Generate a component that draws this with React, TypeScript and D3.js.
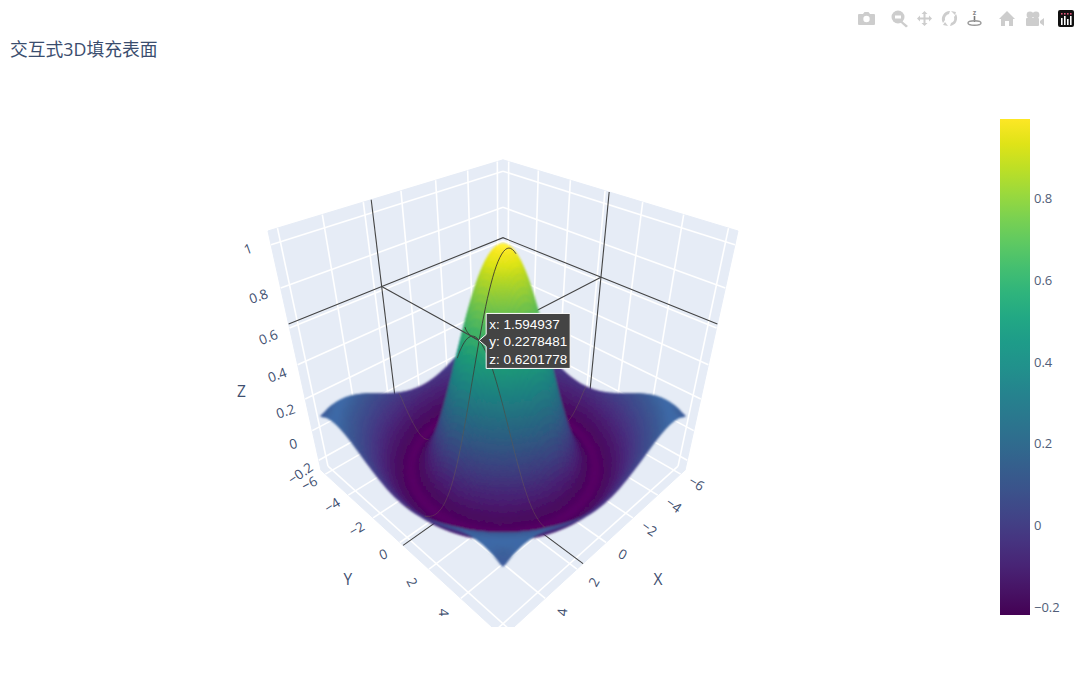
import * as d3 from "d3"
import { useEffect, useRef } from "react"

const WIDTH = 1080
const HEIGHT = 679
const FONT = "'Open Sans', 'Noto Sans CJK SC', sans-serif"

const titleText = "交互式3D填充表面"

// z at |x|, |y| = 0, 0.5, ... 6 (it is mirrored in both axes)
const gridStep = 0.5
const zQuadrant = [
  [1, 0.959, 0.841, 0.665, 0.455, 0.239, 0.047, -0.1, -0.189, -0.217, -0.192, -0.128, -0.047],
  [0.959, 0.919, 0.805, 0.632, 0.428, 0.219, 0.033, -0.109, -0.193, -0.217, -0.189, -0.125, -0.043],
  [0.841, 0.805, 0.698, 0.54, 0.352, 0.161, -0.007, -0.131, -0.202, -0.216, -0.182, -0.114, -0.033],
  [0.665, 0.632, 0.54, 0.402, 0.239, 0.077, -0.063, -0.162, -0.212, -0.211, -0.167, -0.097, -0.016],
  [0.455, 0.428, 0.352, 0.239, 0.109, -0.019, -0.124, -0.193, -0.217, -0.199, -0.145, -0.071, 0.007],
  [0.239, 0.219, 0.161, 0.077, -0.019, -0.109, -0.177, -0.213, -0.212, -0.176, -0.114, -0.04, 0.033],
  [0.047, 0.033, -0.007, -0.063, -0.124, -0.177, -0.21, -0.216, -0.192, -0.142, -0.075, -0.003, 0.061],
  [-0.1, -0.109, -0.131, -0.162, -0.193, -0.213, -0.216, -0.196, -0.155, -0.097, -0.029, 0.036, 0.089],
  [-0.189, -0.193, -0.202, -0.212, -0.217, -0.212, -0.192, -0.155, -0.103, -0.043, 0.019, 0.073, 0.111],
  [-0.217, -0.217, -0.216, -0.211, -0.199, -0.176, -0.142, -0.097, -0.043, 0.013, 0.064, 0.103, 0.125],
  [-0.192, -0.189, -0.182, -0.167, -0.145, -0.114, -0.075, -0.029, 0.019, 0.064, 0.1, 0.123, 0.128],
  [-0.128, -0.125, -0.114, -0.097, -0.071, -0.04, -0.003, 0.036, 0.073, 0.103, 0.123, 0.128, 0.118],
  [-0.047, -0.043, -0.033, -0.016, 0.007, 0.033, 0.061, 0.089, 0.111, 0.125, 0.128, 0.118, 0.095],
]

const xyTicks = [-6, -4, -2, 0, 2, 4, 6]
const zTicks = [-0.2, 0, 0.2, 0.4, 0.6, 0.8, 1]
const colorbarTicks = [-0.2, 0, 0.2, 0.4, 0.6, 0.8]

const hoverX = 1.594937
const hoverY = 0.2278481
const hoverZ = 0.6201778
const hoverLines = ["x: 1.594937", "y: 0.2278481", "z: 0.6201778"]

const colorDomain = [-0.2195, 0.996]
const xyRange = [-6.4, 6.4]
const zRange = [-0.27, 1.06]

// tilt of the tick text, the GL labels follow the perspective
const yLabelTilt = [-28, -32, -30, -22, 62, 88, 88]
const xLabelTilt = [32, 35, 35, 28, -60, -85, -85]
const zLabelTilt = [-35, -15, -18, -20, -22, -20, -20]
const zLabelNudge = [13, 13, 12, 10, 9, 8, 4]

// camera fitted to the box corners
const CAM = { dist: 4.405, elev: (34.6 * Math.PI) / 180, focal: 639, cx: 503, cy: 365.7, zHalf: 0.985 }
const SUB = 120

const xyScale = d3.scaleLinear().domain(xyRange).range([-1, 1])
const zScale = d3.scaleLinear().domain(zRange).range([-CAM.zHalf, CAM.zHalf])
const colorScale = d3.scaleSequential(d3.interpolateViridis).domain(colorDomain)
const contourAlpha = d3.scaleLinear().domain([0.1, 0.6]).range([0.38, 0.85]).clamp(true)
const contourColor = d3
  .scaleLinear<string>()
  .domain([0.05, 0.55])
  .range(["#74644e", "#37322f"])
  .clamp(true)
const glowRed = d3.scaleLinear().domain([-0.2, 0.05]).range([20, 8]).clamp(true)
const glowGreen = d3.scaleLinear().domain([-0.2, 0.05]).range([5, 14]).clamp(true)
const glowBlue = d3.scaleLinear().domain([-0.2, 0.05]).range([18, 26]).clamp(true)
const cosE = Math.cos(CAM.elev)
const sinE = Math.sin(CAM.elev)

const projectNorm = (nx: number, ny: number, nz: number) => {
  const u = (ny - nx) / Math.SQRT2
  const v = (nx + ny) / Math.SQRT2
  const depth = CAM.dist - (v * cosE + nz * sinE)
  const up = nz * cosE - v * sinE
  return [CAM.cx + (CAM.focal * u) / depth, CAM.cy - (CAM.focal * up) / depth, depth]
}
const project = (x: number, y: number, z: number) => projectNorm(xyScale(x), xyScale(y), zScale(z))

const gridAt = (i: number, j: number) => {
  const a = Math.min(Math.abs(i), zQuadrant.length - 1)
  const b = Math.min(Math.abs(j), zQuadrant.length - 1)
  return zQuadrant[a][b]
}
const spline = (p0: number, p1: number, p2: number, p3: number, t: number) =>
  0.5 *
  (2 * p1 +
    (p2 - p0) * t +
    (2 * p0 - 5 * p1 + 4 * p2 - p3) * t * t +
    (3 * p1 - p0 - 3 * p2 + p3) * t * t * t)

// shade between the table's vertices the way a GL surface does
const surfaceZ = (x: number, y: number) => {
  const fx = x / gridStep
  const fy = y / gridStep
  const ix = Math.floor(fx)
  const iy = Math.floor(fy)
  const rows = [-1, 0, 1, 2].map((dx) =>
    spline(
      gridAt(ix + dx, iy - 1),
      gridAt(ix + dx, iy),
      gridAt(ix + dx, iy + 1),
      gridAt(ix + dx, iy + 2),
      fy - iy,
    ),
  )
  return spline(rows[0], rows[1], rows[2], rows[3], fx - ix)
}

// flat parts of the surface catch the overhead light, steep parts fall off a little
const shade = (x: number, y: number, z: number) => {
  const base = d3.rgb(colorScale(z))
  const h = 0.05
  const dzx = (zScale(surfaceZ(x + h, y)) - zScale(surfaceZ(x - h, y))) / (xyScale(x + h) - xyScale(x - h))
  const dzy = (zScale(surfaceZ(x, y + h)) - zScale(surfaceZ(x, y - h))) / (xyScale(y + h) - xyScale(y - h))
  const nz = 1 / Math.hypot(dzx, dzy, 1)
  const lit = Math.min(1, 0.8 + 0.45 * nz)
  const glow = Math.pow(nz, 4)
  return d3
    .rgb(base.r * lit + glow * glowRed(z), base.g * lit + glow * glowGreen(z), base.b * lit + glow * glowBlue(z))
    .formatHex()
}

const pathOf = (pts: number[][], close = false) => {
  const p = d3.path()
  pts.forEach((q, i) => (i ? p.lineTo(q[0], q[1]) : p.moveTo(q[0], q[1])))
  if (close) p.closePath()
  return p.toString()
}

const tickText = (v: number) => d3.format("~g")(v).replace("-", "\u2212")

const App = () => {
  const sceneRef = useRef<SVGGElement>(null)

  useEffect(() => {
    if (!sceneRef.current) return
    const scene = d3.select(sceneRef.current)
    scene.selectAll("*").remove()

    const [lo, hi] = xyRange
    const [zLo, zHi] = zRange

    // back walls and floor
    const walls = [
      [project(hi, lo, zLo), project(lo, lo, zLo), project(lo, lo, zHi), project(hi, lo, zHi)],
      [project(lo, lo, zLo), project(lo, hi, zLo), project(lo, hi, zHi), project(lo, lo, zHi)],
      [project(lo, lo, zLo), project(hi, lo, zLo), project(hi, hi, zLo), project(lo, hi, zLo)],
    ]
    scene
      .append("g")
      .selectAll("path")
      .data(walls)
      .join("path")
      .attr("d", (d) => pathOf(d, true))
      .attr("fill", "#e6ecf6")
      .attr("stroke", "#e6ecf6")
      .attr("stroke-width", 1)

    const gridSegs: number[][][] = []
    xyTicks.forEach((t) => {
      gridSegs.push([project(t, lo, zLo), project(t, lo, zHi)])
      gridSegs.push([project(lo, t, zLo), project(lo, t, zHi)])
      gridSegs.push([project(t, lo, zLo), project(t, hi, zLo)])
      gridSegs.push([project(lo, t, zLo), project(hi, t, zLo)])
    })
    zTicks.forEach((t) => {
      gridSegs.push([project(hi, lo, t), project(lo, lo, t)])
      gridSegs.push([project(lo, lo, t), project(lo, hi, t)])
    })
    scene
      .append("g")
      .attr("filter", "url(#soft-grid)")
      .selectAll("path")
      .data(gridSegs)
      .join("path")
      .attr("d", (d) => pathOf(d))
      .attr("fill", "none")
      .attr("stroke", "#fff")
      .attr("stroke-width", 1.6)

    // spike lines behind the surface
    const backSpikes = [
      [project(hi, lo, hoverZ), project(lo, lo, hoverZ), project(lo, hi, hoverZ)],
      [project(hoverX, lo, zLo), project(hoverX, lo, zHi)],
      [project(lo, hoverY, zLo), project(lo, hoverY, zHi)],
      [project(hoverX, lo, zLo), project(hoverX, hi, zLo)],
      [project(lo, hoverY, zLo), project(hi, hoverY, zLo)],
      [project(lo, hoverY, hoverZ), project(hoverX, hoverY, hoverZ)],
    ]
    scene
      .append("g")
      .selectAll("path")
      .data(backSpikes)
      .join("path")
      .attr("d", (d) => pathOf(d))
      .attr("fill", "none")
      .attr("stroke", "#444")
      .attr("stroke-width", 1.1)

    // surface cells, the eye is past the +x +y corner so index order runs far to near
    const meshPos = d3.scaleLinear().domain([0, SUB]).range([-6, 6])
    const coords = d3.range(SUB + 1).map((i) => meshPos(i))
    const zs = coords.map((x) => coords.map((y) => surfaceZ(x, y)))

    type Cell = { d: string; fill: string }
    const cells: Cell[] = []
    // nearest depth per pixel, only used to hide the contour lines that are behind the hill
    const nearest = new Float32Array(WIDTH * HEIGHT).fill(Infinity)
    for (let i = 0; i < SUB; i++) {
      for (let j = 0; j < SUB; j++) {
        const pts = [
          project(coords[i], coords[j], zs[i][j]),
          project(coords[i + 1], coords[j], zs[i + 1][j]),
          project(coords[i + 1], coords[j + 1], zs[i + 1][j + 1]),
          project(coords[i], coords[j + 1], zs[i][j + 1]),
        ]
        const mx = (coords[i] + coords[i + 1]) / 2
        const my = (coords[j] + coords[j + 1]) / 2
        const mz = (zs[i][j] + zs[i + 1][j] + zs[i + 1][j + 1] + zs[i][j + 1]) / 4
        cells.push({ d: pathOf(pts, true), fill: shade(mx, my, mz) })

        const depth = d3.min(pts, (q) => q[2]) as number
        const [x0, x1] = d3.extent(pts, (q) => q[0]) as number[]
        const [y0, y1] = d3.extent(pts, (q) => q[1]) as number[]
        for (let py = Math.ceil(y0); py <= Math.floor(y1); py++) {
          for (let px = Math.ceil(x0); px <= Math.floor(x1); px++) {
            const at = py * WIDTH + px
            if (depth < nearest[at]) nearest[at] = depth
          }
        }
      }
    }
    scene
      .append("g")
      .attr("filter", "url(#soft-surface)")
      .selectAll("path")
      .data(cells)
      .join("path")
      .attr("d", (d) => d.d)
      .attr("fill", (d) => d.fill)
      .attr("stroke", (d) => d.fill)
      .attr("stroke-width", 1.3)

    // highlighted contours on the surface
    type Seg = { d: string; z: number }
    const segs: Seg[] = []
    const addContour = (pts: number[][], zAt: (k: number) => number) => {
      for (let k = 0; k < pts.length - 1; k++) {
        const px = Math.round((pts[k][0] + pts[k + 1][0]) / 2)
        const py = Math.round((pts[k][1] + pts[k + 1][1]) / 2)
        const depth = (pts[k][2] + pts[k + 1][2]) / 2
        if (depth > nearest[py * WIDTH + px] + 0.05) continue
        segs.push({ d: pathOf([pts[k], pts[k + 1]]), z: zAt(k) })
      }
    }
    addContour(
      coords.map((y) => project(hoverX, y, surfaceZ(hoverX, y))),
      (k) => surfaceZ(hoverX, coords[k]),
    )
    addContour(
      coords.map((x) => project(x, hoverY, surfaceZ(x, hoverY))),
      (k) => surfaceZ(coords[k], hoverY),
    )
    const flat: number[] = []
    for (let j = 0; j <= SUB; j++) for (let i = 0; i <= SUB; i++) flat.push(zs[i][j])
    const level = d3.contours().size([SUB + 1, SUB + 1]).thresholds([hoverZ])(flat)[0]
    level.coordinates.forEach((poly) =>
      poly.forEach((ring) =>
        addContour(
          ring.map((q) => project(meshPos(q[0] - 0.5), meshPos(q[1] - 0.5), hoverZ)),
          () => hoverZ,
        ),
      ),
    )
    scene
      .append("g")
      .selectAll("path")
      .data(segs)
      .join("path")
      .attr("d", (d) => d.d)
      .attr("fill", "none")
      .attr("stroke", (d) => contourColor(d.z))
      .attr("stroke-opacity", (d) => contourAlpha(d.z))
      .attr("stroke-width", 1)

    // spike in front of the surface
    scene
      .append("path")
      .attr("d", pathOf([project(hoverX, lo, hoverZ), project(hoverX, hoverY, hoverZ)]))
      .attr("fill", "none")
      .attr("stroke", "#444")
      .attr("stroke-width", 1.1)

    // tick text
    const labels = scene
      .append("g")
      .attr("font-family", FONT)
      .attr("fill", "#3f5070")
      .attr("text-anchor", "middle")
      .attr("dominant-baseline", "central")
    const place = (text: string, p: number[], tilt: number, size: number, dy = 0) => {
      labels
        .append("text")
        .attr("transform", `translate(${p[0]},${p[1] + dy}) rotate(${tilt})`)
        .attr("font-size", size)
        .text(text)
    }
    xyTicks.forEach((t, i) => {
      place(tickText(t), projectNorm(1.14, xyScale(t), zScale(zLo)), yLabelTilt[i], 13.5)
      place(tickText(t), projectNorm(xyScale(t), 1.14, zScale(zLo)), xLabelTilt[i], 13.5)
    })
    zTicks.forEach((t, i) => {
      place(tickText(t), projectNorm(1.1, -1.1, zScale(t)), zLabelTilt[i], 13.5, zLabelNudge[i])
    })
    place("Y", projectNorm(1.42, xyScale(0), zScale(zLo)), 0, 15.5)
    place("X", projectNorm(xyScale(0), 1.42, zScale(zLo)), 0, 15.5)
    place("Z", projectNorm(1.31, -1.31, zScale(0.25)), 0, 15.5)

    // hover label
    const tip = project(hoverX, hoverY, hoverZ)
    const box = { x: tip[0] + 7, y: tip[1] - 27, w: 84, h: 55 }
    const hover = scene.append("g")
    hover
      .append("path")
      .attr(
        "d",
        pathOf(
          [
            [tip[0], tip[1]],
            [box.x, tip[1] - 6],
            [box.x, box.y],
            [box.x + box.w, box.y],
            [box.x + box.w, box.y + box.h],
            [box.x, box.y + box.h],
            [box.x, tip[1] + 6],
          ],
          true,
        ),
      )
      .attr("fill", "#444")
      .attr("stroke", "#fff")
      .attr("stroke-width", 1)
    hover
      .selectAll("text")
      .data(hoverLines)
      .join("text")
      .attr("x", box.x + 3)
      .attr("y", (_, i) => box.y + 15.5 + i * 17.5)
      .attr("fill", "#fff")
      .attr("font-family", "'Liberation Sans', Arial, sans-serif")
      .attr("font-size", 13.5)
      .text((d) => d)
  }, [])

  const barY = d3.scaleLinear().domain(colorDomain).range([615, 119])
  const barStops = d3.range(0, 21).map((i) => i / 20)

  const grey = "#cdcdcd"
  return (
    <svg
      width={WIDTH}
      height={HEIGHT}
      style={{ position: "absolute", left: 0, top: 0, display: "block", background: "#fff" }}
    >
      <defs>
        <clipPath id="scene-clip">
          <rect x={0} y={0} width={WIDTH} height={627} />
        </clipPath>
        <filter id="soft-surface" x="-5%" y="-5%" width="110%" height="110%">
          <feGaussianBlur stdDeviation={1} />
        </filter>
        <filter id="soft-grid" x="-5%" y="-5%" width="110%" height="110%">
          <feGaussianBlur stdDeviation={0.45} />
        </filter>
        <linearGradient id="bar-fill" x1="0" y1="1" x2="0" y2="0">
          {barStops.map((t) => (
            <stop key={t} offset={t} stopColor={d3.interpolateViridis(t)} />
          ))}
        </linearGradient>
      </defs>
      <text x={10} y={56} fontFamily={FONT} fontSize={17.8} fill="#3a4d6e">
        {titleText}
      </text>
      <g clipPath="url(#scene-clip)" ref={sceneRef} />

      <rect x={1000} y={barY(colorDomain[1])} width={30} height={barY(colorDomain[0]) - barY(colorDomain[1])} fill="url(#bar-fill)" />
      {colorbarTicks.map((t) => (
        <text key={t} x={1034} y={barY(t) + 4.5} fontFamily={FONT} fontSize={13} fill="#515e78">
          {tickText(t)}
        </text>
      ))}

      {/* modebar */}
      <g fill={grey} stroke="none">
        <path d="M859 14h4l1.500-2h4l1.500 2h4a1 1 0 0 1 1 1v9a1 1 0 0 1-1 1h-15a1 1 0 0 1-1-1v-9a1 1 0 0 1 1-1z" />
        <circle cx={866.5} cy={19} r={3.2} fill="#fff" />
        <circle cx={898} cy={17} r={6.5} />
        <rect x={895} y={15.5} width={6} height={3} fill="#fff" />
        <path d="M902 21l6 5-2 1.500-5.500-5z" />
        <path d="M924.500 11l3 3h-2v3.500h3.500v-2l3 3-3 3v-2h-3.500v3.500h2l-3 3-3-3h2v-3.500h-3.500v2l-3-3 3-3v2h3.500v-3.500h-2z" />
        <path d="M943 23a8 8 0 0 1 7-12l-1 3a5 5 0 0 0-4 6z" />
        <path d="M956 14a8 8 0 0 1-6 12l1-3a5 5 0 0 0 3-6z" />
        <path d="M951 11l5 1-1 3zM948 26l-5-1 2-3z" />
        <path d="M1007 11l8 8h-2v7h-4v-5h-4v5h-4v-7h-2z" />
        <circle cx={1030} cy={15} r={3.4} />
        <circle cx={1036} cy={15} r={3.4} />
        <rect x={1026} y={18} width={13} height={8} rx={1} />
        <path d="M1040 21l4-3v8l-4-3z" />
      </g>
      <g>
        <text x={974.5} y={15} fontSize={7} fontWeight={700} textAnchor="middle" fontFamily={FONT} fill="#8a8a8a">
          z
        </text>
        <path d="M974.500 16v6" stroke="#777" strokeWidth={1.6} />
        <ellipse cx={974.5} cy={23} rx={6.5} ry={2.2} fill="none" stroke="#999" strokeWidth={1.4} />
      </g>
      <rect x={1058} y={10} width={16} height={17} rx={2} fill="#111" />
      <g fill="#fff">
        <rect x={1061} y={18} width={1.6} height={7} />
        <rect x={1064} y={16} width={1.6} height={9} />
        <rect x={1067} y={19} width={1.6} height={6} />
        <rect x={1070} y={16} width={1.6} height={9} />
      </g>
      <g fill="#e0557a">
        <rect x={1061} y={13} width={1.6} height={1.6} />
        <rect x={1064} y={13} width={1.6} height={1.6} />
        <rect x={1067} y={13} width={1.6} height={1.6} />
        <rect x={1070} y={13} width={1.6} height={1.6} />
      </g>
    </svg>
  )
}

export default App
